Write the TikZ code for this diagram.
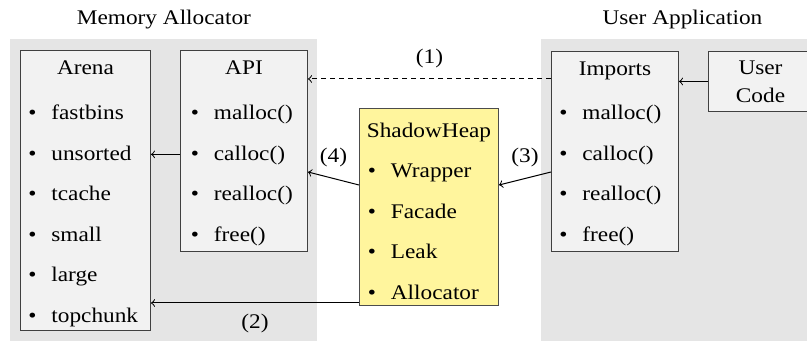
\documentclass[tikz,border=0pt]{standalone}
\usepackage{fontspec}
\setmainfont{Liberation Serif}[FakeStretch=1.12]
\usetikzlibrary{positioning}

\definecolor{panelgray}{HTML}{E5E5E5}
\definecolor{boxgray}{HTML}{F2F2F2}
\definecolor{shadowyellow}{HTML}{FFF59D}
\newcommand{\itm}[1]{\makebox[11.5pt][l]{\textbullet}#1}

\begin{document}
\begin{tikzpicture}[x=0.5pt, y=-0.5pt, node distance=8.8pt,
    every node/.style={font=\fontsize{10.4}{14}\selectfont},
    panel/.style={fill=panelgray, inner sep=0, anchor=north west},
    box/.style={draw=black!75, fill=boxgray, line width=0.5pt, inner sep=0, anchor=north west},
    head/.style={inner sep=0, text height=8.5pt, text depth=2.5pt},
    item/.style={inner sep=0, text height=8.5pt, text depth=2.5pt, text width=48pt, align=left},
    flow/.style={->, line width=0.5pt}]
    \useasboundingbox (0,0) rectangle (807,341);

    % two sides
    \node[panel, minimum width=153.5pt, minimum height=151pt] (alloc) at (10,39) {};
    \node[panel, minimum width=141pt, minimum height=151pt] (app) at (541,39) {};
    \node[head, above=4.5pt of alloc.north] (alloctitle) {Memory Allocator};
    \node[head, above=4.5pt of app.north] (apptitle) {User Application};

    % boxes
    \node[box, minimum width=65pt, minimum height=140pt] (arena) at (20,50) {};
    \node[box, minimum width=63.5pt, minimum height=100.5pt] (api) at (180,50) {};
    \node[box, minimum width=63.5pt, minimum height=100pt] (imports) at (551,51) {};
    \node[box, minimum width=52pt, minimum height=30pt, align=center] (user) at (708,51) {User\\Code};
    \node[box, fill=shadowyellow, draw=black!70, minimum width=69.5pt, minimum height=98.5pt] (shadow) at (359,108) {};

    \node[head, below=3.5pt of arena.north] (arenahead) {Arena};
    \node[head, below=3.5pt of api.north] (apihead) {API};
    \node[head, below=3.5pt of imports.north] (importshead) {Imports};
    \node[head, below=6pt of shadow.north] (shadowhead) {ShadowHeap};

    % arena
    \node[item, anchor=base west] (fastbins) at (28,120) {\itm{fastbins}};
    \node[item, below=of fastbins] (unsorted) {\itm{unsorted}};
    \node[item, below=of unsorted] (tcache) {\itm{tcache}};
    \node[item, below=of tcache] (small) {\itm{small}};
    \node[item, below=of small] (large) {\itm{large}};
    \node[item, below=of large] (topchunk) {\itm{topchunk}};

    % api
    \node[item, anchor=base west] (apimalloc) at (190.5,120) {\itm{malloc()}};
    \node[item, below=of apimalloc] (apicalloc) {\itm{calloc()}};
    \node[item, below=of apicalloc] (apirealloc) {\itm{realloc()}};
    \node[item, below=of apirealloc] (apifree) {\itm{free()}};

    % imports
    \node[item, anchor=base west] (impmalloc) at (559,120) {\itm{malloc()}};
    \node[item, below=of impmalloc] (impcalloc) {\itm{calloc()}};
    \node[item, below=of impcalloc] (imprealloc) {\itm{realloc()}};
    \node[item, below=of imprealloc] (impfree) {\itm{free()}};

    % shadowheap
    \node[item, anchor=base west] (wrapper) at (367.5,178) {\itm{Wrapper}};
    \node[item, below=of wrapper] (facade) {\itm{Facade}};
    \node[item, below=of facade] (leak) {\itm{Leak}};
    \node[item, below=of leak] (allocator) {\itm{Allocator}};

    \draw[flow, dash pattern=on 2.5pt off 2pt] ([yshift=-14pt]imports.north west) -- ([yshift=-14.5pt]api.north east) node[midway, above=2pt] {(1)};
    \draw[flow] (user.west) -- (imports.east |- user.west);
    \draw[flow] (api.west |- apicalloc) -- (arena.east |- apicalloc);
    \draw[flow] (imports.west |- wrapper) -- ([yshift=-6.5pt]shadow.east |- wrapper) node[midway, above=2pt] {(3)};
    \draw[flow] ([yshift=-6.5pt]shadow.west |- wrapper) -- (api.east |- wrapper) node[midway, above=2pt] {(4)};
    \draw[flow] ([yshift=1.5pt]shadow.south west) -- ([yshift=1.5pt]shadow.south west -| arena.east) node[midway, below=2pt] {(2)};
  \end{tikzpicture}
\end{document}
